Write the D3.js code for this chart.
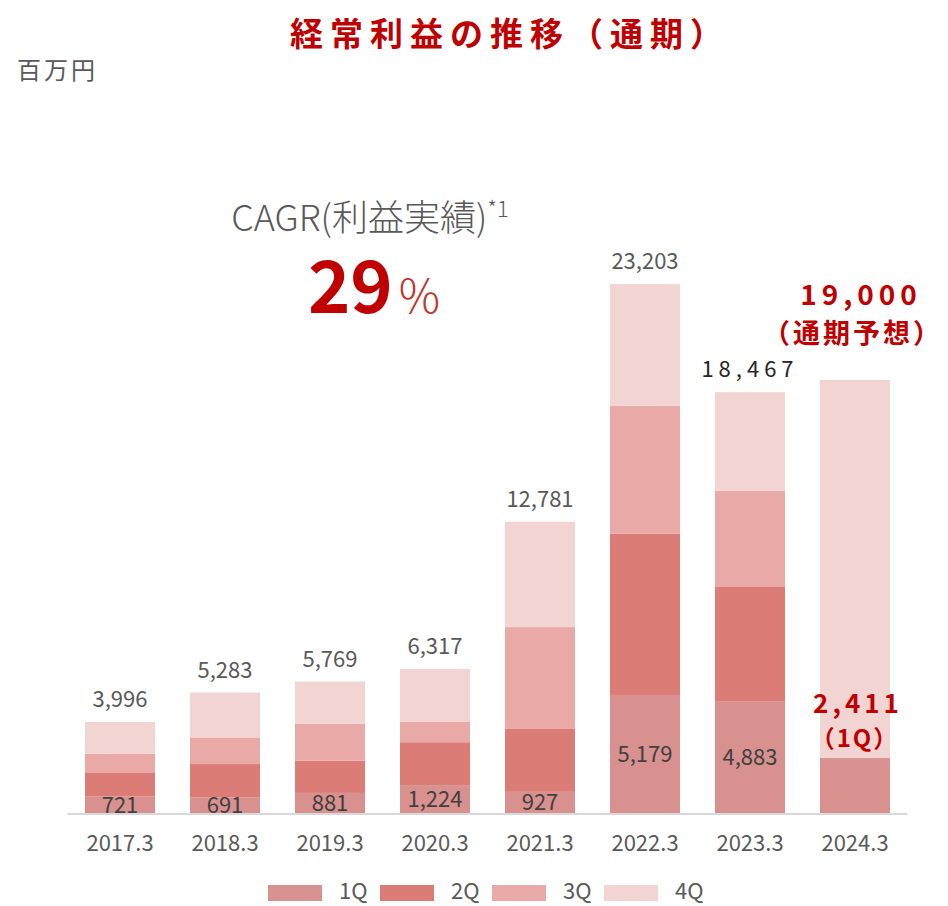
<!DOCTYPE html>
<html>
<head>
<meta charset="utf-8">
<script src="https://cdn.jsdelivr.net/npm/d3@7"></script>
<style>
  body { margin: 0; background: #fff; }
  svg { display: block; font-family: "Noto Sans CJK JP", "Noto Sans", sans-serif; }
</style>
</head>
<body>
<svg id="chart" width="948" height="906"></svg>
<script>
// 経常利益 (百万円), quarterly
var categories = ["2017.3", "2018.3", "2019.3", "2020.3", "2021.3", "2022.3", "2023.3", "2024.3"];
var q1 = [721, 691, 881, 1224, 927, 5179, 4883, 2411];
var q2 = [1063, 1457, 1414, 1881, 2761, 7072, 5062, 0];
var q3 = [818, 1168, 1619, 906, 4469, 5619, 4197, 0];
var q4 = [1394, 1967, 1855, 2306, 4624, 5333, 4325, 0];
var totals = [3996, 5283, 5769, 6317, 12781, 23203, 18467, null];
var forecast = [null, null, null, null, null, null, null, 19000];
var seriesNames = ["1Q", "2Q", "3Q", "4Q"];
var colors = ["#d9918f", "#dc7c77", "#e8a9a7", "#f2d4d3"];

var svg = d3.select("#chart");
var gray = "#595959";

var rows = categories.map(function(c, i) {
  return { cat: c, "1Q": q1[i], "2Q": q2[i], "3Q": q3[i], "4Q": q4[i] };
});

var x = d3.scaleBand().domain(categories).range([67.5, 907.5]).paddingInner(1 / 3).paddingOuter(1 / 6);
var y = d3.scaleLinear().domain([0, 24000]).range([813, 266]);

var stacked = d3.stack().keys(seriesNames)(rows);

// bars
svg.selectAll("g.series")
  .data(stacked)
  .enter().append("g")
  .attr("class", "series")
  .attr("fill", function(d, i) { return colors[i]; })
  .selectAll("rect")
  .data(function(d) { return d.filter(function(p) { return p[1] > p[0]; }); })
  .enter().append("rect")
  .attr("x", function(d) { return x(d.data.cat); })
  .attr("width", x.bandwidth())
  .attr("y", function(d) { return y(d[1]); })
  .attr("height", function(d) { return y(d[0]) - y(d[1]); });

// forecast remainder (drawn in 4Q colour)
svg.selectAll("rect.fc")
  .data(categories.filter(function(c, i) { return forecast[i] != null; }))
  .enter().append("rect")
  .attr("class", "fc")
  .attr("fill", colors[3])
  .attr("x", function(c) { return x(c); })
  .attr("width", x.bandwidth())
  .attr("y", function(c) { return y(forecast[categories.indexOf(c)]); })
  .attr("height", function(c) {
    var i = categories.indexOf(c);
    return y(q1[i]) - y(forecast[i]);
  });

// axis
var xAxis = d3.axisBottom(x).tickSize(0).tickPadding(22);
var axisG = svg.append("g").attr("transform", "translate(0," + y(0) + ")").call(xAxis);
axisG.select(".domain").attr("stroke", "#d9d9d9").attr("stroke-width", 2).attr("d", "M67.5,1H907.5");
axisG.selectAll("text")
  .attr("fill", gray)
  .style("font-size", "22px")
  .style("font-family", "'Noto Sans CJK JP', sans-serif");

var fmt = d3.format(",");

// 1Q labels centred in segment
svg.selectAll("text.q1")
  .data(categories.filter(function(c, i) { return forecast[i] == null; }))
  .enter().append("text")
  .attr("class", "q1")
  .attr("x", function(c) { return x(c) + x.bandwidth() / 2; })
  .attr("y", function(c) { var i = categories.indexOf(c); return (y(0) + y(q1[i])) / 2; })
  .attr("dy", "0.36em")
  .attr("text-anchor", "middle")
  .attr("fill", "#404040")
  .style("font-size", "22px")
  .text(function(c) { return fmt(q1[categories.indexOf(c)]); });

// totals
svg.selectAll("text.total")
  .data(categories.filter(function(c, i) { return totals[i] != null; }))
  .enter().append("text")
  .attr("class", "total")
  .attr("x", function(c) { return x(c) + x.bandwidth() / 2; })
  .attr("y", function(c) { return y(totals[categories.indexOf(c)]) - 15; })
  .attr("text-anchor", "middle")
  .attr("fill", function(c) { return c == "2023.3" ? "#262626" : gray; })
  .style("letter-spacing", function(c) { return c == "2023.3" ? "5px" : "0px"; })
  .style("font-size", "22px")
  .text(function(c) { return fmt(totals[categories.indexOf(c)]); });

// forecast labels
var red = "#c00000";
var fcCat = categories[7];
var fcX = x(fcCat) + x.bandwidth() / 2;
svg.append("text")
  .attr("x", fcX + 6).attr("y", y(forecast[7]) - 75)
  .attr("text-anchor", "middle").attr("fill", red)
  .style("font-size", "28px").style("font-weight", "bold").style("letter-spacing", "5px")
  .text(fmt(forecast[7]));
svg.append("text")
  .attr("x", fcX - 2).attr("y", y(forecast[7]) - 37)
  .attr("text-anchor", "middle").attr("fill", red)
  .style("font-size", "27px").style("font-weight", "bold").style("letter-spacing", "3px")
  .text("（通期予想）");
svg.append("text")
  .attr("x", fcX + 3).attr("y", y(q1[7]) - 45)
  .attr("text-anchor", "middle").attr("fill", red)
  .style("font-size", "26px").style("font-weight", "bold").style("letter-spacing", "4px")
  .text(fmt(q1[7]));
svg.append("text")
  .attr("x", fcX).attr("y", y(q1[7]) - 11)
  .attr("text-anchor", "middle").attr("fill", red)
  .style("font-size", "24px").style("font-weight", "bold").style("letter-spacing", "2px")
  .text("（1Q）");

// title
svg.append("text")
  .attr("x", 510).attr("y", 46)
  .attr("text-anchor", "middle").attr("fill", red)
  .style("font-size", "33px").style("font-weight", "bold").style("letter-spacing", "7px")
  .text("経常利益の推移（通期）");

svg.append("text")
  .attr("x", 17).attr("y", 79)
  .attr("fill", gray)
  .style("font-size", "24px").style("letter-spacing", "3px")
  .text("百万円");

// CAGR
var cagr = svg.append("text")
  .attr("x", 370).attr("y", 231)
  .attr("text-anchor", "middle").attr("fill", gray)
  .style("font-size", "36px").style("font-weight", "300");
cagr.append("tspan").text("CAGR(利益実績)");
cagr.append("tspan").attr("dy", -14).style("font-size", "22px").text("*1");

var pct = svg.append("text")
  .attr("x", 374).attr("y", 313)
  .attr("text-anchor", "middle").attr("fill", red);
pct.append("tspan").style("font-size", "72px").style("font-weight", "bold").text("29");
pct.append("tspan").attr("fill", "#c0392b").style("font-size", "46px").style("font-weight", "300").attr("dx", 6).text("%");

// legend
var legend = svg.append("g").attr("transform", "translate(268,885)");
var item = legend.selectAll("g")
  .data(seriesNames)
  .enter().append("g")
  .attr("transform", function(d, i) { return "translate(" + i * 112 + ",0)"; });
item.append("rect").attr("width", 54).attr("height", 16).attr("fill", function(d, i) { return colors[i]; });
item.append("text")
  .attr("x", 71).attr("y", 14)
  .attr("fill", gray).style("font-size", "22px")
  .text(function(d) { return d; });
</script>
</body>
</html>
